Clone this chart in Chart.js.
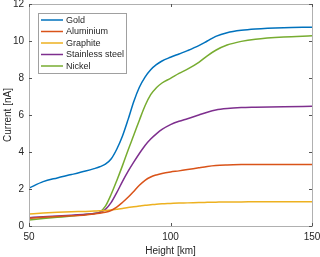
<!DOCTYPE html>
<html>
<head>
<meta charset="utf-8">
<script src="https://cdn.jsdelivr.net/npm/chart.js@4/dist/chart.umd.min.js"></script>
<style>
  html, body { margin: 0; padding: 0; background: #fff; }
  #wrap { width: 320px; height: 257px; }
</style>
</head>
<body>
<div id="wrap"><canvas id="currentChart"></canvas></div>
<script>
// 高度 (km)
const heights = [50, 55, 60, 65, 70, 73, 75, 77, 79, 81, 83, 85, 87, 89, 91, 93, 95, 97, 100, 103, 106, 110, 113, 116, 120, 125, 130, 140, 150];

// 各材料的电流 (nA)
const gold = [2.05, 2.4, 2.6, 2.78, 2.97, 3.1, 3.2, 3.34, 3.62, 4.15, 4.85, 5.75, 6.72, 7.5, 8.05, 8.45, 8.72, 8.92, 9.12, 9.3, 9.48, 9.75, 10.0, 10.25, 10.45, 10.58, 10.65, 10.72, 10.75];
const aluminium = [0.42, 0.47, 0.51, 0.55, 0.6, 0.65, 0.69, 0.74, 0.84, 1.02, 1.27, 1.55, 1.87, 2.2, 2.47, 2.65, 2.76, 2.84, 2.92, 2.98, 3.05, 3.15, 3.22, 3.27, 3.3, 3.32, 3.33, 3.33, 3.33];
const graphite = [0.65, 0.7, 0.74, 0.77, 0.79, 0.81, 0.82, 0.84, 0.87, 0.91, 0.95, 1.0, 1.04, 1.08, 1.12, 1.15, 1.18, 1.2, 1.22, 1.24, 1.25, 1.27, 1.28, 1.29, 1.3, 1.3, 1.31, 1.31, 1.31];
const stainless = [0.45, 0.5, 0.54, 0.58, 0.63, 0.68, 0.73, 0.9, 1.26, 1.8, 2.4, 2.95, 3.45, 3.92, 4.35, 4.7, 4.98, 5.22, 5.48, 5.66, 5.8, 6.0, 6.15, 6.27, 6.35, 6.4, 6.42, 6.45, 6.47];
const nickel = [0.33, 0.4, 0.47, 0.54, 0.62, 0.68, 0.75, 1.07, 1.7, 2.45, 3.25, 4.1, 4.9, 5.72, 6.5, 7.1, 7.47, 7.73, 7.98, 8.25, 8.48, 8.85, 9.2, 9.5, 9.78, 9.98, 10.1, 10.22, 10.28];

const seriesNames = ['Gold', 'Aluminium', 'Graphite', 'Stainless steel', 'Nickel'];
const seriesValues = [gold, aluminium, graphite, stainless, nickel];
const seriesColors = ['#0072BD', '#D95319', '#EDB120', '#7E2F8E', '#77AC30'];

const xTicks = [50, 100, 150];
const yTicks = [0, 2, 4, 6, 8, 10, 12];

const FONT = 'Liberation Sans, Arial, Helvetica, sans-serif';
const axisGray = '#262626';
const boxGray = '#b0b0b0';

// 画坐标框和朝内的刻度 (MATLAB 风格)
const boxPlugin = {
    id: 'boxPlugin',
    afterDraw(chart) {
        const ctx = chart.ctx;
        const a = chart.chartArea;
        const xs = chart.scales.x, ys = chart.scales.y;
        ctx.save();
        ctx.strokeStyle = boxGray;
        ctx.lineWidth = 1;
        ctx.strokeRect(Math.round(a.left) + 0.5, Math.round(a.top) + 0.5,
            Math.round(a.right - a.left), Math.round(a.bottom - a.top));
        ctx.strokeStyle = '#555';
        ctx.beginPath();
        xTicks.forEach(v => {
            const px = Math.round(xs.getPixelForValue(v)) + 0.5;
            ctx.moveTo(px, a.bottom); ctx.lineTo(px, a.bottom - 3);
            ctx.moveTo(px, a.top); ctx.lineTo(px, a.top + 3);
        });
        yTicks.forEach(v => {
            const py = Math.round(ys.getPixelForValue(v)) + 0.5;
            ctx.moveTo(a.left, py); ctx.lineTo(a.left + 3, py);
            ctx.moveTo(a.right, py); ctx.lineTo(a.right - 3, py);
        });
        ctx.stroke();

        // 图例
        const lx = 38, ly = 13, lw = 88, lh = 60;
        ctx.fillStyle = '#fff';
        ctx.fillRect(lx, ly, lw, lh);
        ctx.strokeStyle = '#a0a0a0';
        ctx.strokeRect(lx + 0.5, ly + 0.5, lw, lh);
        ctx.font = '9px ' + FONT;
        ctx.textBaseline = 'middle';
        seriesNames.forEach((name, i) => {
            const y = 20 + i * 11.5;
            ctx.strokeStyle = seriesColors[i];
            ctx.lineWidth = 1.5;
            ctx.beginPath();
            ctx.moveTo(41, y); ctx.lineTo(63, y);
            ctx.stroke();
            ctx.fillStyle = axisGray;
            ctx.fillText(name, 66, y + 0.5);
        });
        ctx.restore();
    }
};

const datasets = seriesNames.map((name, i) => ({
    label: name,
    data: heights.map((h, j) => ({ x: h, y: seriesValues[i][j] })),
    borderColor: seriesColors[i],
    backgroundColor: seriesColors[i],
    borderWidth: 1.5,
    pointRadius: 0,
    cubicInterpolationMode: 'monotone',
    fill: false
}));

const noGrid = { display: false, drawTicks: false, tickLength: 0 };

new Chart(document.getElementById('currentChart'), {
    type: 'line',
    data: { datasets: datasets },
    options: {
        responsive: true,
        maintainAspectRatio: false,
        animation: false,
        layout: { padding: { top: 4, right: 8, left: 0, bottom: 0 } },
        plugins: {
            legend: { display: false },
            tooltip: { enabled: false }
        },
        scales: {
            x: {
                type: 'linear',
                min: 50, max: 150,
                afterBuildTicks: s => { s.ticks = xTicks.map(v => ({ value: v })); },
                afterFit: s => { s.height = 31; s.paddingLeft = 0; s.paddingRight = 0; },
                grid: noGrid,
                border: { display: false },
                ticks: { color: axisGray, font: { family: FONT, size: 10 }, padding: 5, maxRotation: 0 },
                title: { display: true, text: 'Height [km]', color: axisGray, font: { family: FONT, size: 10 }, padding: { top: 2, bottom: 0 } }
            },
            y: {
                min: 0, max: 12,
                afterBuildTicks: s => { s.ticks = yTicks.map(v => ({ value: v })); },
                afterFit: s => { s.width = 29; s.paddingTop = 0; s.paddingBottom = 0; },
                grid: noGrid,
                border: { display: false },
                ticks: { color: axisGray, font: { family: FONT, size: 10 }, padding: 5 },
                title: { display: true, text: 'Current [nA]', color: axisGray, font: { family: FONT, size: 10 }, padding: { top: 2, bottom: 0 } }
            }
        }
    },
    plugins: [boxPlugin]
});
</script>
</body>
</html>
